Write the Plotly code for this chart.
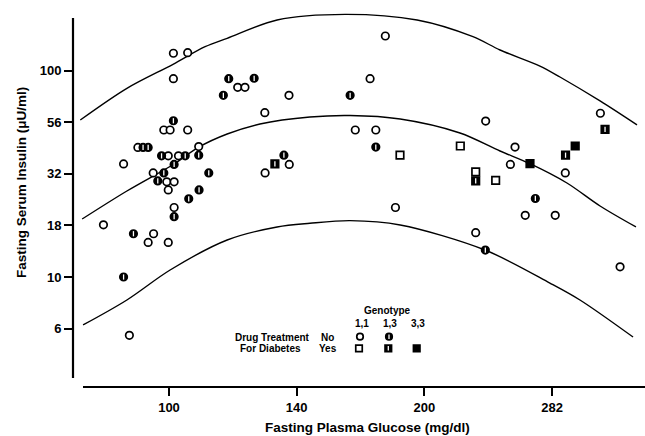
import plotly.graph_objects as go

# ---------------- data ----------------
# Genotype 1,1 - no drug treatment (open circles)
g11_no = [101.2, 105.2, 101.2, 120.5, 122.9, 138.5, 129.7, 98.6, 100.3, 105.2,
          91.9, 108.4, 99.8, 102.6, 88.4, 138.6, 95.8, 129.8, 99.4, 101.4,
          99.8, 101.4, 83.7, 95.9, 94.5, 99.8, 89.8, 179.9, 172.6, 322.5,
          236.2, 165.8, 175.3, 255.8, 252.6, 293.2, 184.9, 263.0, 285.3, 229.9,
          340.2]
i11_no = [121.2, 122.0, 91.3, 82.9, 82.9, 75.8, 62.5, 51.5, 51.5, 51.5,
          42.4, 42.8, 38.6, 38.6, 35.3, 35.1, 31.9, 31.9, 28.9, 28.9,
          26.4, 21.7, 17.9, 16.2, 14.7, 14.7, 5.22, 146.9, 91.3, 62.1,
          56.9, 51.5, 51.5, 42.6, 35.1, 31.9, 21.7, 19.9, 19.9, 16.4,
          11.2]
# Genotype 1,3 - no drug treatment (half-filled circles)
g13_no = [117.6, 126.0, 115.9, 101.2, 93.2, 94.5, 98.0, 104.5, 108.4, 101.4,
          98.6, 111.4, 97.0, 108.5, 105.5, 101.4, 90.8, 88.4, 136.6, 163.5,
          175.3, 270.3, 236.0]
i13_no = [91.3, 91.7, 75.8, 57.1, 42.4, 42.4, 38.6, 38.6, 38.9, 35.1,
          31.9, 31.9, 29.2, 26.4, 23.9, 19.6, 16.2, 10.0, 38.9, 75.8,
          42.6, 24.0, 13.5]
# Drug treatment: genotype 1,1 (open squares)
g11_yes = [220.5, 187.2, 229.9, 242.7]
i11_yes = [43.1, 38.9, 32.3, 29.4]
# Drug treatment: genotype 1,3 (half-filled squares)
g13_yes = [133.3, 326.6, 293.4, 229.9]
i13_yes = [35.3, 51.9, 38.9, 29.2]
# Drug treatment: genotype 3,3 (filled squares)
g33_yes = [301.2, 266.4]
i33_yes = [43.1, 35.4]

# fitted curves
mid_g = [79.0, 89.2, 101.4, 108.5, 117.1, 128.0, 146.6, 163.5, 187.3, 220.3,
         245.6, 266.4, 294.5, 322.2, 355.2]
mid_i = [19.09, 26.09, 35.26, 42.62, 49.26, 55.07, 59.55, 60.55, 58.24, 49.82,
         40.76, 35.38, 28.52, 22.07, 17.47]
up_g = [78.6, 89.2, 101.1, 110.3, 117.1, 134.1, 161.3, 196.1, 228.2, 245.6,
        273.7, 289.0, 322.2, 356.2]
up_i = [57.6, 82.0, 107.2, 130.4, 143.2, 175.6, 187.0, 175.6, 145.8, 125.7,
        105.1, 93.0, 71.2, 54.5]
lo_g = [79.2, 89.2, 100.3, 117.1, 134.1, 146.6, 163.5, 187.3, 235.8, 281.2,
        305.1, 352.4]
lo_i = [5.86, 7.74, 10.81, 15.11, 17.47, 18.20, 18.74, 17.86, 13.51, 9.35,
        7.74, 5.12]

x_tickvals = [100, 141.42, 200, 282.84]
x_ticktext = ["100", "140", "200", "282"]
y_tickvals = [100, 56.23, 31.62, 17.78, 10, 5.623]
y_ticktext = ["100", "56", "32", "18", "10", "6"]

FONT = "Liberation Sans"
fig = go.Figure()

# curves
for cx, cy in [(up_g, up_i), (mid_g, mid_i), (lo_g, lo_i)]:
    fig.add_trace(go.Scatter(x=cx, y=cy, mode="lines",
                             line=dict(color="black", width=1.4, shape="spline", smoothing=0.9),
                             hoverinfo="skip", showlegend=False))

MS = 7.5


def add_group(xs, ys, symbol, fill, slit, xaxis="x", yaxis="y", size=MS):
    fig.add_trace(go.Scatter(x=xs, y=ys, mode="markers", xaxis=xaxis, yaxis=yaxis,
                             marker=dict(symbol=symbol, size=size, color=fill,
                                         line=dict(color="black", width=1.7)),
                             showlegend=False))
    if slit:
        fig.add_trace(go.Scatter(x=xs, y=ys, mode="markers", xaxis=xaxis, yaxis=yaxis,
                                 marker=dict(symbol="line-ns", size=size * 0.5,
                                             line=dict(color="white", width=1.3)),
                                 showlegend=False))


add_group(g11_no, i11_no, "circle", "white", False)
add_group(g13_no, i13_no, "circle", "black", True)
add_group(g11_yes, i11_yes, "square", "white", False)
add_group(g13_yes, i13_yes, "square", "black", True)
add_group(g33_yes, i33_yes, "square", "black", False)

# legend (overlay axis in pixel units)
add_group([360], [336.7], "circle", "white", False, "x2", "y2", 6.5)
add_group([389], [336.7], "circle", "black", True, "x2", "y2", 6.5)
add_group([359], [348.3], "square", "white", False, "x2", "y2", 6.5)
add_group([388.3], [348.3], "square", "black", True, "x2", "y2", 6.5)
add_group([416.7], [348.3], "square", "black", False, "x2", "y2", 6.5)

lf = dict(family=FONT, size=10, color="black", weight="bold")
for txt, x, y in [("Genotype", 387, 310), ("1,1", 361.5, 323.5), ("1,3", 390, 323.5),
                  ("3,3", 418, 323.5), ("Drug Treatment", 272, 337), ("No", 327, 337),
                  ("For Diabetes", 270, 348.5), ("Yes", 327.5, 348.5)]:
    fig.add_annotation(x=x, y=y, xref="x2", yref="y2", text=txt, showarrow=False,
                       font=lf, xanchor="center", yanchor="middle")

W, H = 645, 436
L, B, T, R = 73, 49, 0, 0
pw, ph = W - L - R, H - B - T

tf = dict(family=FONT, size=13, color="black", weight="bold")
ttl = dict(family=FONT, size=13.5, color="black", weight="bold")

# axis titles (as annotations in paper coords)
fig.add_annotation(xref="paper", yref="paper", x=(367 - L) / pw, y=(387 - 428) / ph,
                   text="Fasting Plasma Glucose (mg/dl)", showarrow=False, font=ttl,
                   xanchor="center", yanchor="middle")
fig.add_annotation(xref="paper", yref="paper", x=(22 - L) / pw, y=(387 - 183) / ph,
                   text="Fasting Serum Insulin (μU/ml)", showarrow=False, font=ttl,
                   textangle=-90, xanchor="center", yanchor="middle")

# axis lines (detached like in the original)
fig.add_shape(type="line", xref="paper", yref="paper", x0=0, x1=0,
              y0=(387 - 378) / ph, y1=(387 - 18) / ph, line=dict(color="black", width=2.2))
fig.add_shape(type="line", xref="paper", yref="paper", x0=(83 - 73) / pw, x1=1,
              y0=0, y1=0, line=dict(color="black", width=2.2))

fig.update_layout(
    width=W, height=H, margin=dict(l=L, r=R, t=T, b=B, autoexpand=False),
    paper_bgcolor="white", plot_bgcolor="white",
    xaxis=dict(type="log", range=[1.88683, 2.56112], tickvals=x_tickvals, ticktext=x_ticktext,
               ticks="outside", ticklen=8, tickwidth=2, tickcolor="black", automargin=False,
               showline=False, showgrid=False, zeroline=False, tickfont=tf),
    yaxis=dict(type="log", range=[0.4673, 2.3414], tickvals=y_tickvals, ticktext=y_ticktext,
               ticks="outside", ticklen=8, tickwidth=2, tickcolor="black", automargin=False,
               showline=False, showgrid=False, zeroline=False, tickfont=tf),
    xaxis2=dict(overlaying="x", range=[73, 645], visible=False, fixedrange=True),
    yaxis2=dict(overlaying="y", range=[387, 0], visible=False, fixedrange=True),
    showlegend=False,
)

fig.write_html("out.html", config={"displayModeBar": False},
               post_script="document.body.style.margin='0';document.body.style.overflow='hidden';")
